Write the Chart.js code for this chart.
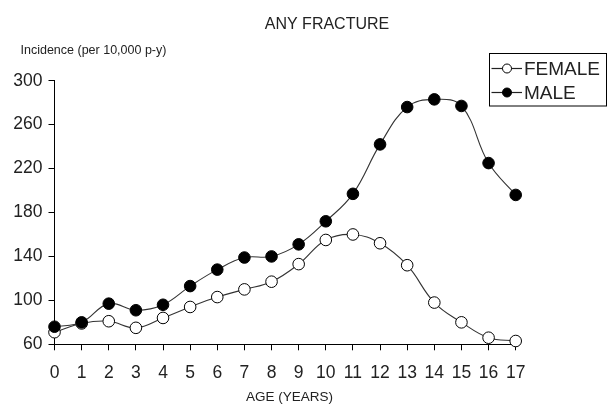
<!DOCTYPE html>
<html>
<head>
<meta charset="utf-8">
<script src="https://cdn.jsdelivr.net/npm/chart.js@4/dist/chart.umd.min.js"></script>
<style>
  html, body { margin: 0; padding: 0; background: #fff; }
  #wrap { width: 607px; height: 410px; }
</style>
</head>
<body>
<div id="wrap"><canvas id="c" width="607" height="410"></canvas></div>
<script>
const ages = ["0","1","2","3","4","5","6","7","8","9","10","11","12","13","14","15","16","17"];
const female = [71, 79, 81, 75, 84, 94, 103, 110, 117, 133, 155, 160, 152, 132, 98, 80, 66, 63];
const male = [76, 80, 97, 91, 96, 113, 128, 139, 140, 151, 172, 197, 242, 276, 283, 277, 225, 196];
const yTicks = [60, 100, 140, 180, 220, 260, 300];
const chartTitle = "ANY FRACTURE";
const yTitle = "Incidence (per 10,000 p-y)";
const xTitle = "AGE (YEARS)";
const seriesNames = ["FEMALE", "MALE"];

const FONT = "'Liberation Sans', Arial, sans-serif";
const INK = "#222";

const decorPlugin = {
  id: 'decor',
  afterDraw(chart) {
    const ctx = chart.ctx;
    ctx.save();
    ctx.fillStyle = INK;
    ctx.textBaseline = 'alphabetic';
    // title
    ctx.font = "16px " + FONT;
    ctx.textAlign = 'center';
    ctx.fillText(chartTitle, 327, 28.5);
    // y title
    ctx.font = "12.5px " + FONT;
    ctx.textAlign = 'left';
    ctx.fillText(yTitle, 20.5, 53.5);
    // x title
    ctx.font = "13.5px " + FONT;
    ctx.textAlign = 'center';
    ctx.fillText(xTitle, 289.5, 401);
    // legend
    const lx = 489, ly = 53.5, lw = 117, lh = 52.5;
    ctx.strokeStyle = "#000";
    ctx.lineWidth = 1;
    ctx.strokeRect(lx + 0.5, ly, lw, lh);
    const rows = [
      {name: seriesNames[0], y: 68.5, fill: '#fff'},
      {name: seriesNames[1], y: 92.5, fill: '#000'}
    ];
    rows.forEach(r => {
      ctx.strokeStyle = "#222";
      ctx.lineWidth = 1.2;
      ctx.beginPath();
      ctx.moveTo(491.5, r.y);
      ctx.lineTo(522, r.y);
      ctx.stroke();
      ctx.beginPath();
      ctx.arc(507, r.y, 4.5, 0, Math.PI * 2);
      ctx.fillStyle = r.fill;
      ctx.fill();
      ctx.strokeStyle = "#000";
      ctx.lineWidth = 1;
      ctx.stroke();
      ctx.fillStyle = INK;
      ctx.font = "19px " + FONT;
      ctx.textAlign = 'left';
      ctx.textBaseline = 'middle';
      ctx.fillText(r.name, 524, r.y + 1);
    });
    ctx.restore();
  }
};

new Chart(document.getElementById('c'), {
  type: 'line',
  data: {
    labels: ages,
    datasets: [
      {
        label: seriesNames[0],
        data: female,
        borderColor: '#333',
        borderWidth: 1.1,
        pointRadius: 5.8,
        pointBackgroundColor: '#fff',
        pointBorderColor: '#000',
        pointBorderWidth: 1,
        tension: 0.4,
        fill: false,
        clip: false,
        order: 1
      },
      {
        label: seriesNames[1],
        data: male,
        borderColor: '#333',
        borderWidth: 1.1,
        pointRadius: 5.8,
        pointBackgroundColor: '#000',
        pointBorderColor: '#000',
        pointBorderWidth: 1,
        tension: 0.4,
        fill: false,
        clip: false,
        order: 0
      }
    ]
  },
  options: {
    responsive: false,
    animation: false,
    devicePixelRatio: 1,
    layout: { padding: { top: 80.7, right: 91.3, bottom: 0, left: 0 } },
    plugins: {
      legend: { display: false },
      title: { display: false },
      tooltip: { enabled: false }
    },
    scales: {
      x: {
        type: 'category',
        offset: false,
        grid: { drawOnChartArea: false, drawTicks: true, tickLength: 6, color: '#000', lineWidth: 1 },
        border: { display: true, color: '#000', width: 1 },
        ticks: {
          color: INK,
          font: { family: FONT, size: 17.5 },
          padding: 12,
          maxRotation: 0,
          autoSkip: false
        },
        afterFit(s) { s.height = 65.7; }
      },
      y: {
        min: 60,
        max: 300,
        afterBuildTicks(s) { s.ticks = yTicks.map(v => ({ value: v })); },
        grid: { drawOnChartArea: false, drawTicks: true, tickLength: 6, color: '#000', lineWidth: 1 },
        border: { display: true, color: '#000', width: 1 },
        ticks: {
          color: INK,
          font: { family: FONT, size: 17.5 },
          padding: 6
        },
        afterFit(s) { s.width = 54.5; }
      }
    }
  },
  plugins: [decorPlugin]
});
</script>
</body>
</html>
